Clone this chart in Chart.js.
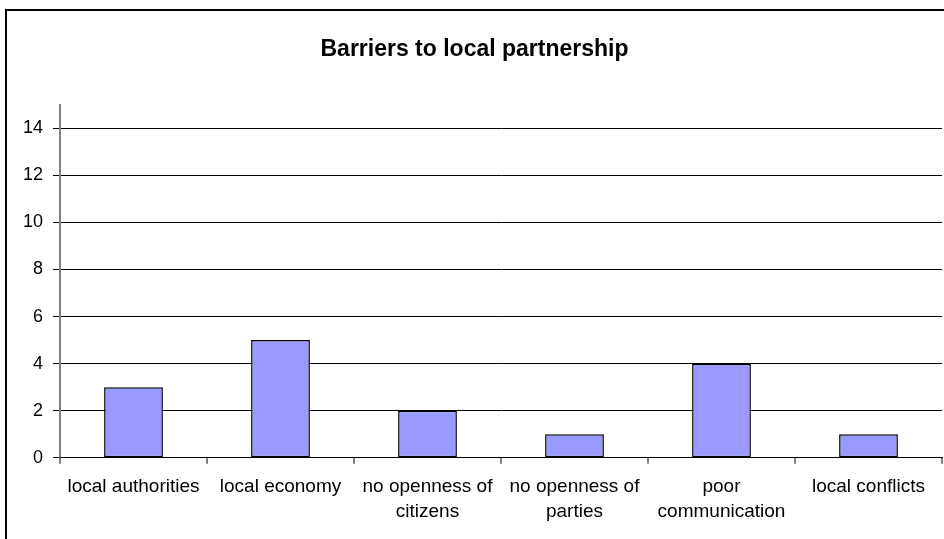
<!DOCTYPE html>
<html>
<head>
<meta charset="utf-8">
<script src="https://cdn.jsdelivr.net/npm/chart.js@4/dist/chart.umd.min.js"></script>
<style>
	html, body { margin: 0; padding: 0; background: #fff; overflow: hidden; width: 944px; height: 539px; }
	#frame {
		position: absolute;
		left: 5px;
		top: 9px;
		width: 949px;
		height: 540px;
		border-left: 2px solid #000;
		border-top: 2px solid #000;
	}
	#frame canvas { position: absolute; left: 0; top: 0; }
</style>
</head>
<body>
<div id="frame"><canvas id="chart" width="949" height="528"></canvas></div>
<script>
// Barrier categories (multi-line labels where they wrap)
const categories = [
	"local authorities",
	"local economy",
	["no openness of", "citizens"],
	["no openness of", "parties"],
	["poor", "communication"],
	"local conflicts",
];
const counts = [3, 5, 2, 1, 4, 1];
const yTicks = [0, 2, 4, 6, 8, 10, 12, 14];

const FONT = "'Liberation Sans', Arial, sans-serif";

const canvas = document.getElementById("chart");
const chart = new Chart(canvas, {
	type: "bar",
	data: {
		labels: categories,
		datasets: [
			{
				label: "Barriers",
				data: counts,
				backgroundColor: "#9999ff",
				borderColor: "#000",
				borderWidth: 1.5,
				borderSkipped: false,
				barPercentage: 0.4,
				categoryPercentage: 1,
			},
		],
	},
	options: {
		responsive: false,
		animation: false,
		layout: {
			padding: { left: 0, right: 14, top: 0, bottom: 5 },
		},
		scales: {
			y: {
				min: 0,
				max: 15,
				afterBuildTicks: (scale) => {
					scale.ticks = yTicks.map((v) => ({ value: v }));
				},
				afterFit: (scale) => {
					scale.width = 53;
				},
				ticks: {
					includeBounds: false,
					padding: 10,
					color: "#000",
					font: { family: FONT, size: 18 },
				},
				grid: {
					color: "#000",
					lineWidth: 1,
					tickLength: 7,
					tickColor: "#000",
				},
				border: { display: true, color: "#808080", width: 2 },
			},
			x: {
				offset: true,
				ticks: {
					autoSkip: false,
					maxRotation: 0,
					minRotation: 0,
					padding: 10,
					color: "#000",
					font: { family: FONT, size: 19, lineHeight: 1.32 },
				},
				grid: {
					offset: true,
					drawOnChartArea: false,
					tickLength: 6,
					tickColor: "#808080",
					lineWidth: 2,
				},
				border: { display: true, color: "#000", width: 1 },
			},
		},
		plugins: {
			legend: { display: false },
			tooltip: { enabled: false },
			title: {
				display: true,
				text: "Barriers to local partnership",
				color: "#000",
				font: { family: FONT, size: 23, weight: "bold" },
				padding: { top: 25, bottom: 41 },
			},
		},
	},
});
</script>
</body>
</html>
